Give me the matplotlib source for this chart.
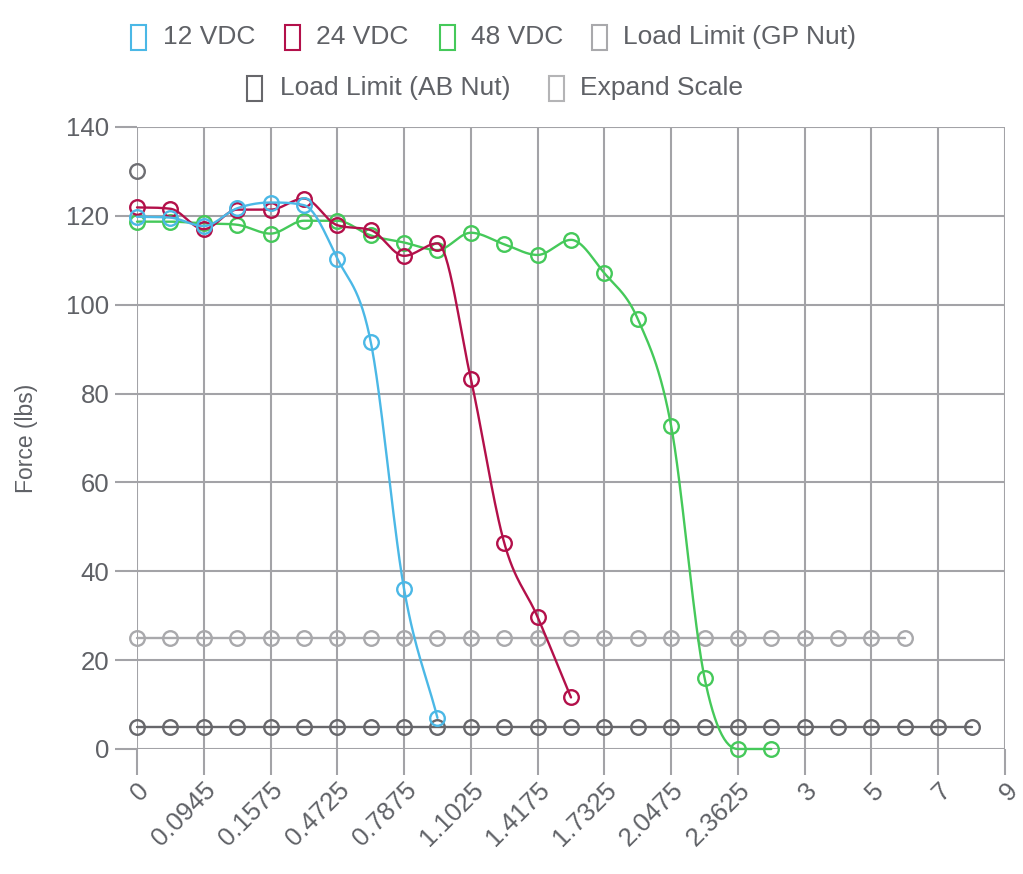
import numpy as np
import matplotlib.pyplot as plt
from matplotlib.patches import Rectangle

plt.rcParams['font.family'] = ['Liberation Sans', 'DejaVu Sans']

W, H = 1023, 874

# category axis (only every other label is shown in the chart)
x_labels = ['0', '0.063', '0.0945', '0.126', '0.1575', '0.315', '0.4725',
            '0.63', '0.7875', '0.945', '1.1025', '1.26', '1.4175', '1.575',
            '1.7325', '1.89', '2.0475', '2.205', '2.3625', '2.52', '3', '4',
            '5', '6', '7', '8', '9']

vdc12 = [119.8, 119.6, 117.7, 121.7, 123.0, 122.4, 110.4, 91.7, 36.0, 7.0]
vdc24 = [121.9, 121.6, 117.0, 121.4, 121.4, 123.9, 117.9, 116.8, 111.0,
         113.8, 83.3, 46.4, 29.7, 11.6]
vdc48 = [118.7, 118.7, 118.3, 118.0, 116.0, 118.9, 118.9, 115.6, 114.0,
         112.3, 116.2, 113.6, 111.2, 114.6, 107.1, 96.8, 72.7, 16.0, 0.0, 0.0]
gp_nut = [25] * 24
ab_nut = [5] * 26
expand_scale = [130]

series = [
    # label, values, colour
    ('12 VDC', vdc12, '#4bb8e6'),
    ('24 VDC', vdc24, '#b3104a'),
    ('48 VDC', vdc48, '#45c95a'),
    ('Load Limit (GP Nut)', gp_nut, '#a9a9ac'),
    ('Load Limit (AB Nut)', ab_nut, '#67676b'),
    ('Expand Scale', expand_scale, '#6e6e72'),
]
legend_box_col = ['#4bb8e6', '#b3104a', '#45c95a', '#a9a9ac', '#67676b', '#b4b4b6']

text_col = '#5f6166'
grid_col = '#a3a3a7'


def monotone(y, n=30):
    '''Chart.js style monotone cubic, sampled'''
    y = np.asarray(y, dtype=float)
    x = np.arange(len(y), dtype=float)
    if len(y) < 2:
        return x, y
    d = np.diff(y)
    m = np.zeros(len(y))
    m[0] = d[0]
    m[-1] = d[-1]
    for i in range(1, len(y) - 1):
        if np.sign(d[i - 1]) != np.sign(d[i]) or d[i - 1] == 0 or d[i] == 0:
            m[i] = 0
        else:
            m[i] = (d[i - 1] + d[i]) / 2.
    for i in range(len(d)):
        if abs(d[i]) < 1e-9:
            m[i] = m[i + 1] = 0
            continue
        a = m[i] / d[i]
        b = m[i + 1] / d[i]
        s = a * a + b * b
        if s <= 9:
            continue
        tau = 3. / np.sqrt(s)
        m[i] = a * tau * d[i]
        m[i + 1] = b * tau * d[i]
    xs, ys = [], []
    t = np.linspace(0, 1, n)
    for i in range(len(d)):
        p0 = (x[i], y[i])
        p1 = (x[i] + 1 / 3., y[i] + m[i] / 3.)
        p2 = (x[i + 1] - 1 / 3., y[i + 1] - m[i + 1] / 3.)
        p3 = (x[i + 1], y[i + 1])
        bx = ((1 - t)**3 * p0[0] + 3 * (1 - t)**2 * t * p1[0] +
              3 * (1 - t) * t**2 * p2[0] + t**3 * p3[0])
        by = ((1 - t)**3 * p0[1] + 3 * (1 - t)**2 * t * p1[1] +
              3 * (1 - t) * t**2 * p2[1] + t**3 * p3[1])
        xs.extend(bx)
        ys.extend(by)
    return np.array(xs), np.array(ys)


fig = plt.figure(figsize=(W / 100., H / 100.), dpi=100)
ax = fig.add_axes([137. / W, 1 - 749. / H, (1005. - 137.) / W, (749. - 127.) / H])

for k, (label, vals, col) in enumerate(series):
    z = 10 - k
    xs, ys = monotone(vals)
    ax.plot(xs, ys, color=col, lw=1.7, zorder=z, clip_on=False,
            solid_capstyle='round')
    ax.plot(np.arange(len(vals)), vals, ls='none', marker='o', ms=10.5,
            mfc='none', mec=col, mew=1.7, zorder=z, clip_on=False)

ax.set_xlim(0, len(x_labels) - 1)
ax.set_ylim(0, 140)
ax.set_yticks(np.arange(0, 141, 20))
ax.set_xticks(np.arange(0, len(x_labels), 2))
ax.set_xticklabels(x_labels[::2], rotation=45, ha='right',
                   rotation_mode='anchor')

ax.grid(True, color=grid_col, lw=1.5, zorder=0)
ax.axhline(0, color='#86868a', lw=1.8, zorder=1)
for s in ax.spines.values():
    s.set_visible(False)
ax.tick_params(axis='y', length=16, width=1.5, color=grid_col, pad=4,
               labelsize=18.5, labelcolor=text_col)
ax.tick_params(axis='x', length=19, width=1.5, color=grid_col, pad=2,
               labelsize=18.5, labelcolor=text_col)
ax.set_ylabel('Force (lbs)', fontsize=16.5, color=text_col, labelpad=20)

# legend, drawn by hand in pixel positions
legend_items = [
    (131, 37, 163, 0), (285, 37, 316, 1), (440, 37, 471, 2),
    (592, 37, 623, 3), (247, 88, 280, 4), (549, 88, 580, 5),
]
for bx, cy, tx, k in legend_items:
    fig.patches.append(Rectangle((bx / W, 1 - (cy + 12.5) / H), 15. / W, 25. / H,
                                 transform=fig.transFigure, fill=False,
                                 ec=legend_box_col[k], lw=1.5))
    fig.text(tx / W, 1 - cy / H, series[k][0], ha='left', va='center',
             fontsize=19, color=text_col)

fig.savefig('out.png', dpi=100)
